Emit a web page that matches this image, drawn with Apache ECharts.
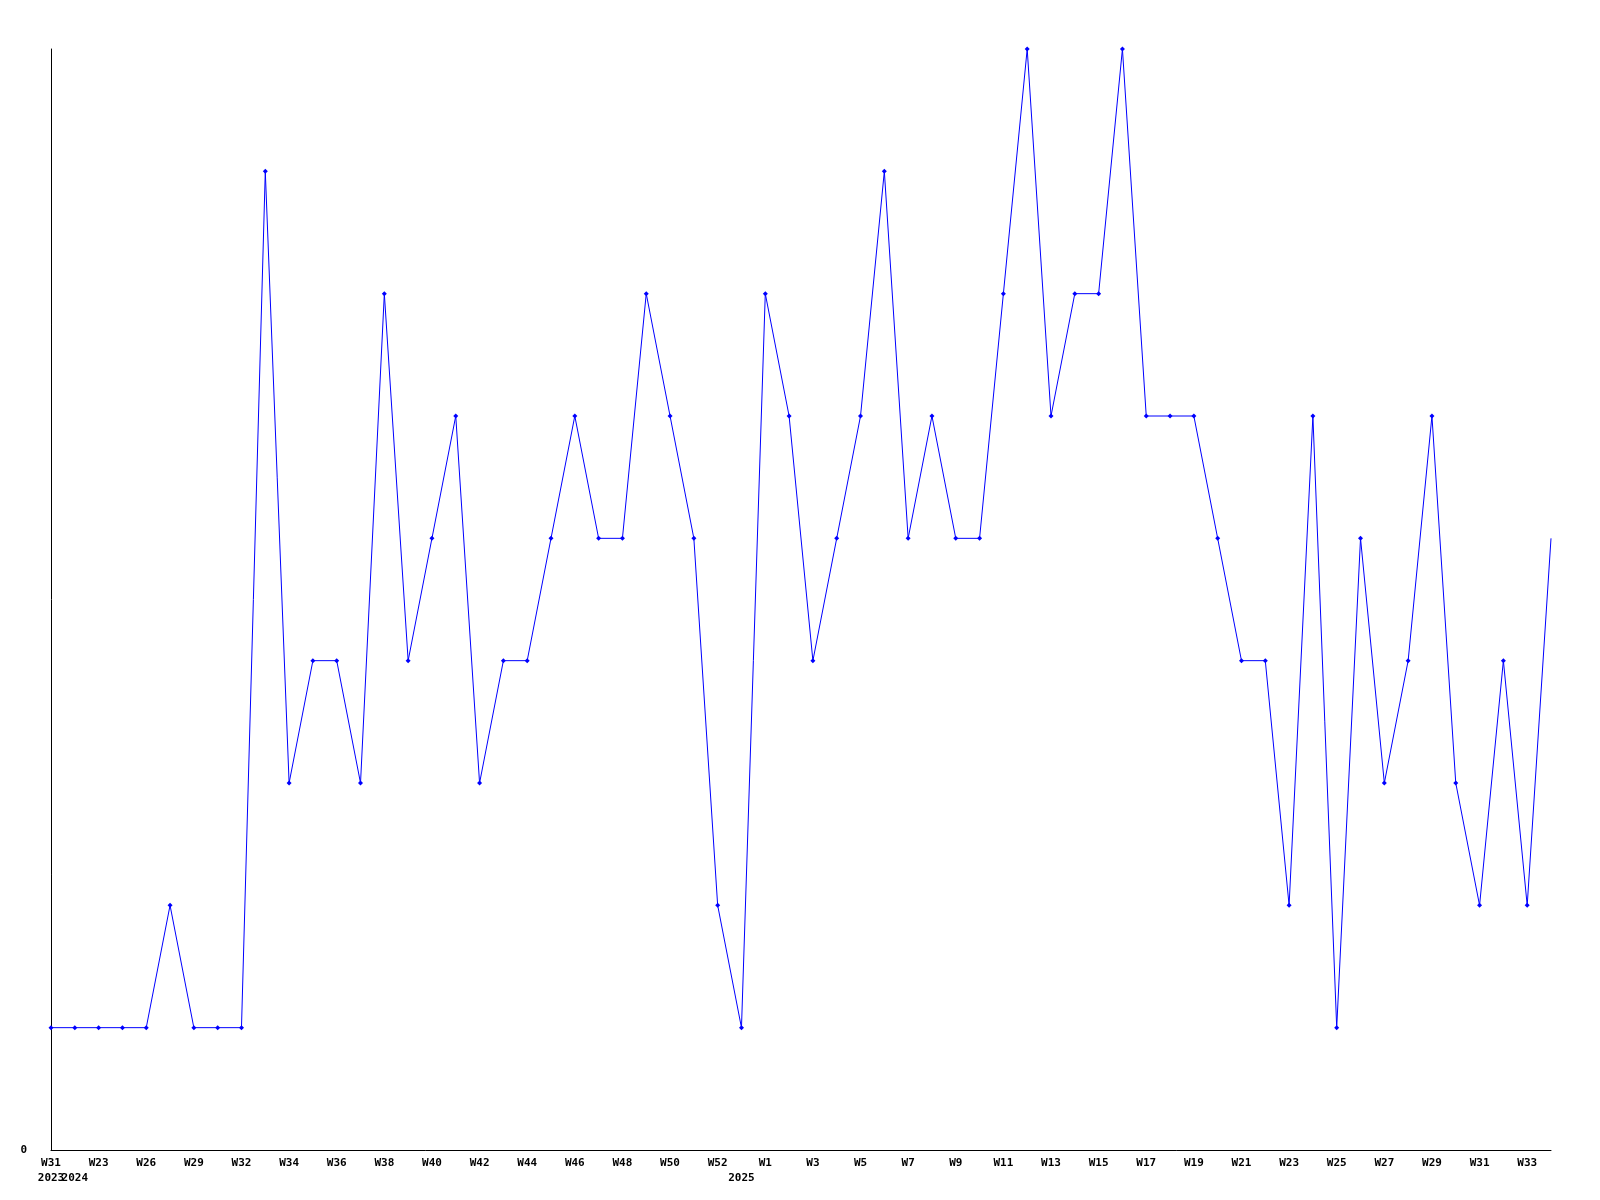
<!DOCTYPE html>
<html>
<head>
<meta charset="utf-8">
<script src="https://cdn.jsdelivr.net/npm/echarts@6/dist/echarts.min.js"></script>
<style>html,body{margin:0;padding:0;background:#fff}#c{width:1600px;height:1200px}</style>
</head>
<body>
<div id="c"></div>
<script>
var weeks = ['W31','W22','W23','W25','W26','W28','W29','W31','W32','W33','W34','W35','W36','W37','W38','W39','W40','W41','W42','W43','W44','W45','W46','W47','W48','W49','W50','W51','W52','W1','W1','W2','W3','W4','W5','W6','W7','W8','W9','W10','W11','W12','W13','W14','W15','W16','W17','W18','W19','W20','W21','W22','W23','W24','W25','W26','W27','W28','W29','W30','W31','W32','W33','W34'];
var yearLabels = {0:'2023', 1:'2024', 29:'2025'};
var values = [1,1,1,1,1,2,1,1,1,8,3,4,4,3,7,4,5,6,3,4,4,5,6,5,5,7,6,5,2,1,7,6,4,5,6,8,5,6,5,5,7,9,6,7,7,9,6,6,6,5,4,4,2,6,1,5,3,4,6,3,2,4,2,5];
var yTicks = [0];

var chart = echarts.init(document.getElementById('c'));
var font = 'DejaVu Sans Mono';
var seriesData = values.map(function (v, i) {
  return i === values.length - 1 ? {value: v, symbol: 'none'} : v;
});
chart.setOption({
  animation: false,
  backgroundColor: '#fff',
  grid: {left: 51, right: 49, top: 49, bottom: 50, containLabel: false},
  xAxis: {
    type: 'category',
    data: weeks,
    boundaryGap: false,
    axisLine: {lineStyle: {color: '#000', width: 1}},
    axisTick: {show: false},
    splitLine: {show: false},
    axisLabel: {
      interval: 0,
      margin: 6,
      color: '#000',
      fontFamily: font,
      fontWeight: 'bold',
      fontSize: 11,
      lineHeight: 15,
      formatter: function (v, i) {
        return (i % 2 === 0 ? v : ' ') + '\n' + (yearLabels[i] || ' ');
      }
    }
  },
  yAxis: {
    type: 'value',
    min: 0,
    max: 9,
    interval: 9,
    axisLine: {show: true, lineStyle: {color: '#000', width: 1}},
    axisTick: {show: false},
    splitLine: {show: false},
    axisLabel: {
      margin: 24,
      color: '#000',
      fontFamily: font,
      fontWeight: 'bold',
      fontSize: 11,
      formatter: function (v) { return yTicks.indexOf(v) >= 0 ? String(v) : ''; }
    }
  },
  series: [{
    type: 'line',
    data: seriesData,
    symbol: 'diamond',
    symbolSize: 5,
    showAllSymbol: true,
    clip: false,
    lineStyle: {color: '#0000ff', width: 1},
    itemStyle: {color: '#0000ff'}
  }]
});
</script>
</body>
</html>
